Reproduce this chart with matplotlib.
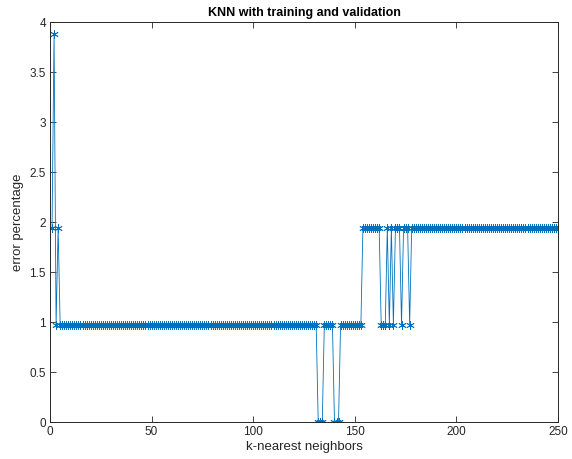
import numpy as np
import matplotlib.pyplot as plt

# error percentage, stored as runs (value, how many k in a row)
run_values = [1.9417, 3.8835, 0.9709, 1.9417, 0.9709, 0.0, 0.9709, 0.0, 0.9709,
              1.9417, 0.9709, 1.9417, 0.9709, 1.9417, 0.9709, 1.9417, 0.9709,
              1.9417, 0.9709, 1.9417]
run_lengths = [1, 1, 1, 1, 127, 3, 5, 3, 11,
               9, 3, 1, 1, 1, 1, 3, 1,
               3, 1, 73]

err = np.repeat(run_values, run_lengths)
k = np.arange(1, len(err) + 1)

x_ticks = [0, 50, 100, 150, 200, 250]
y_ticks = [0, 0.5, 1, 1.5, 2, 2.5, 3, 3.5, 4]
y_labels = ['0', '0.5', '1', '1.5', '2', '2.5', '3', '3.5', '4']

plt.rcParams['font.family'] = ['Liberation Sans', 'DejaVu Sans']
axis_col = '#262626'

fig = plt.figure(figsize=(5.72, 4.59), dpi=100)
ax = fig.add_axes([0.0874, 0.0806, 0.8881, 0.8714])
ax.plot(k, err, color='#0072BD', linewidth=0.6, marker=(6, 2, 0), markersize=6,
        markeredgewidth=0.6)

ax.set_xlim(0, 250)
ax.set_ylim(0, 4)
ax.set_xticks(x_ticks)
ax.set_yticks(y_ticks)
ax.set_yticklabels(y_labels)
ax.tick_params(direction='in', length=4, width=0.6, top=True, right=True,
               labelsize=8.5, colors=axis_col, pad=3)
for s in ax.spines.values():
    s.set_color(axis_col)
    s.set_linewidth(0.7)

ax.set_title('KNN with training and validation', fontsize=9, fontweight='bold', pad=4)
ax.set_xlabel('k-nearest neighbors', fontsize=9.5, color=axis_col, labelpad=2)
ax.set_ylabel('error percentage', fontsize=9.5, color=axis_col, labelpad=4)

fig.savefig('out.png', dpi=100)
